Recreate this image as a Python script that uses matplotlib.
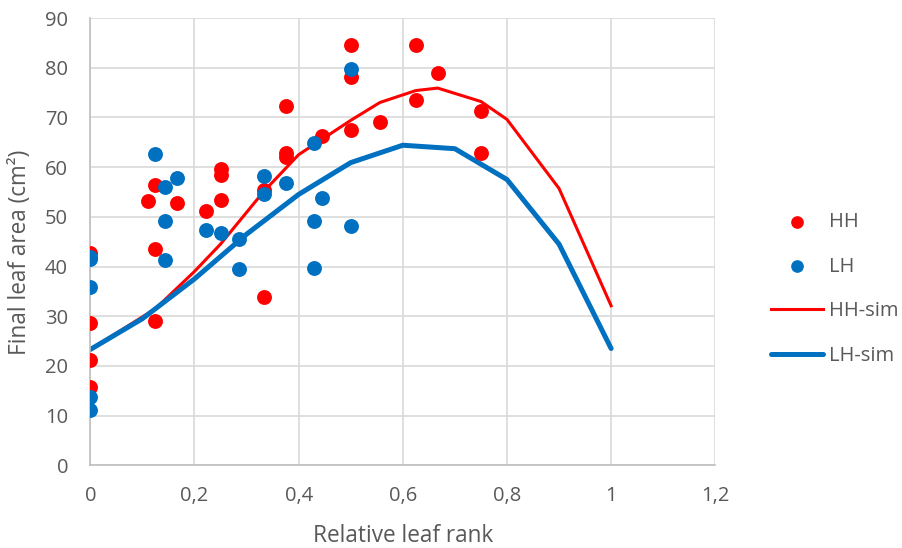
import numpy as np
import matplotlib
matplotlib.use("Agg")
import matplotlib.pyplot as plt

plt.rcParams['font.family'] = ['Open Sans', 'DejaVu Sans']

# observed points, HH
hh_x = [0, 0, 0, 0, 0.111, 0.125, 0.125, 0.125, 0.167, 0.222, 0.25, 0.25, 0.25,
        0.333, 0.333, 0.375, 0.375, 0.375, 0.444, 0.5, 0.5, 0.5, 0.556,
        0.625, 0.625, 0.667, 0.75, 0.75]
hh_y = [42.7, 28.7, 21.2, 15.8, 53.2, 56.3, 43.5, 29.1, 52.8, 51.1, 59.7, 58.4, 53.4,
        55.4, 33.9, 72.2, 62.8, 62.1, 66.2, 84.6, 78.1, 67.5, 69.1,
        84.6, 73.6, 79.0, 71.3, 62.8]

# observed points, LH
lh_x = [0, 0, 0, 0, 0, 0.125, 0.143, 0.143, 0.143, 0.167, 0.222, 0.25, 0.286, 0.286,
        0.333, 0.333, 0.375, 0.429, 0.429, 0.429, 0.444, 0.5, 0.5]
lh_y = [42.0, 41.5, 35.8, 13.7, 11.1, 62.6, 55.9, 49.1, 41.3, 57.9, 47.4, 46.8, 45.5, 39.4,
        58.2, 54.6, 56.9, 64.9, 49.2, 39.6, 53.7, 79.7, 48.1]

# simulations
hh_sim_x = [0, 0.125, 0.2, 0.25, 0.333, 0.4, 0.5, 0.556, 0.625, 0.667, 0.75, 0.8, 0.9, 1.0]
hh_sim_y = [23.3, 31.5, 39.0, 44.5, 55.1, 62.5, 69.4, 73.0, 75.4, 75.9, 73.2, 69.6, 55.7, 32.1]
lh_sim_x = [0, 0.1, 0.2, 0.3, 0.4, 0.5, 0.6, 0.7, 0.8, 0.9, 1.0]
lh_sim_y = [23.3, 29.5, 37.5, 46.5, 54.5, 60.9, 64.4, 63.7, 57.5, 44.5, 23.5]

x_ticks = [0, 0.2, 0.4, 0.6, 0.8, 1.0, 1.2]
x_tick_labels = ["0", "0,2", "0,4", "0,6", "0,8", "1", "1,2"]
y_ticks = [0, 10, 20, 30, 40, 50, 60, 70, 80, 90]

red = "#FF0000"
blue = "#0070C0"
grey_txt = "#595959"

fig = plt.figure(figsize=(9.02, 5.48), dpi=100)
ax = fig.add_axes([90.3 / 902, 1 - 465.3 / 548, 625 / 902, 447.3 / 548])

ax.plot(hh_sim_x, hh_sim_y, color=red, lw=2.2, label="HH-sim", zorder=2)
ax.plot(lh_sim_x, lh_sim_y, color=blue, lw=3.6, label="LH-sim", zorder=2,
        solid_capstyle="round")
ax.scatter(hh_x, hh_y, s=115, color=red, label="HH", zorder=3, linewidths=0)
ax.scatter(lh_x, lh_y, s=115, color=blue, label="LH", zorder=3, linewidths=0)

ax.set_xlim(0, 1.2)
ax.set_ylim(0, 90)
ax.set_xticks(x_ticks)
ax.set_xticklabels(x_tick_labels)
ax.set_yticks(y_ticks)
ax.grid(True, color="#d9d9d9", lw=1.2, zorder=0)
ax.set_axisbelow(True)
ax.tick_params(length=0, labelsize=14.5, colors=grey_txt)
ax.tick_params(axis="y", pad=16)
ax.tick_params(axis="x", pad=15)
for s in ["top", "right"]:
    ax.spines[s].set_visible(False)
for s in ["left", "bottom"]:
    ax.spines[s].set_color("#bfbfbf")
    ax.spines[s].set_linewidth(1.2)

ax.set_xlabel("Relative leaf rank", fontsize=16.3, color=grey_txt)
ax.set_ylabel("Final leaf area (cm²)", fontsize=16.3, color=grey_txt)
ax.xaxis.set_label_coords(0.501, -0.132)
ax.yaxis.set_label_coords(-0.093, 0.477)

handles, labels = ax.get_legend_handles_labels()
order = [2, 3, 0, 1]
leg = fig.legend([handles[i] for i in order], [labels[i] for i in order],
                 loc="center left", bbox_to_anchor=(771 / 902, 1 - 289 / 548),
                 frameon=False, fontsize=14.5, handlelength=2.6, handletextpad=0.3,
                 labelspacing=1.22, borderpad=0, borderaxespad=0, markerscale=0.85)
for t in leg.get_texts():
    t.set_color(grey_txt)

fig.savefig("out.png", dpi=100)
